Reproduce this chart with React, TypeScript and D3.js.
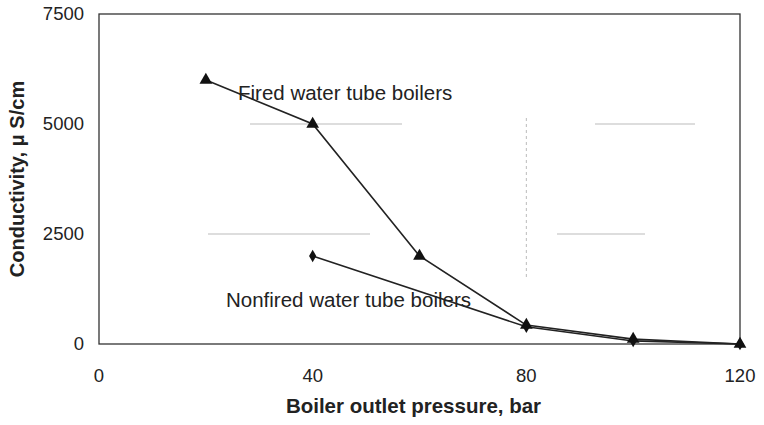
import * as d3 from "d3";

const pressure = [20, 40, 60, 80, 100, 120];
const fired = [6000, 5000, 2000, 430, 110, 0];
const nonfiredPressure = [40, 80, 100, 120];
const nonfired = [2000, 390, 70, 0];
const xTicks = [0, 40, 80, 120];
const yTicks = [0, 2500, 5000, 7500];

const W = 764;
const H = 425;
const m = { left: 99, right: 24, top: 14, bottom: 81 };
const font = "Arial, 'Liberation Sans', sans-serif";

// faded gridline fragments, as in the scanned original
const gridDash: Record<number, string> = {
  5000: "0 151 152 193 100 1000",
  2500: "0 109 162 187 88 1000",
};
const vDash = "0 104 " + "3 3 ".repeat(27) + "0 1000";

export default function App() {
  const x = d3.scaleLinear().domain([0, 120]).range([m.left, W - m.right]);
  const y = d3.scaleLinear().domain([0, 7500]).range([H - m.bottom, m.top]);

  const firedPts: [number, number][] = pressure.map((p, i) => [x(p), y(fired[i])]);
  const nonPts: [number, number][] = nonfiredPressure.map((p, i) => [x(p), y(nonfired[i])]);
  const line = d3.line();
  const tri = d3.symbol().type(d3.symbolTriangle).size(70)();
  const dia = d3.symbol().type(d3.symbolDiamond).size(45)();

  return (
    <svg width={W} height={H} style={{ position: "absolute", left: 0, top: 0, background: "#fff" }}>
      {[2500, 5000].map((v) => (
        <line key={v} x1={x(0)} x2={x(120)} y1={y(v)} y2={y(v)} stroke="#bbb" strokeWidth={1} strokeDasharray={gridDash[v]} />
      ))}
      <line x1={x(80)} x2={x(80)} y1={y(7500)} y2={y(0)} stroke="#bbb" strokeWidth={1} strokeDasharray={vDash} />
      <rect x={x(0)} y={y(7500)} width={x(120) - x(0)} height={y(0) - y(7500)} fill="none" stroke="#333" strokeWidth={1.3} />

      {yTicks.map((t) => (
        <text key={t} x={x(0) - 15} y={y(t)} dy="0.35em" textAnchor="end" fontFamily={font} fontSize={18.5} fill="#222">
          {t}
        </text>
      ))}
      {xTicks.map((t) => (
        <text key={t} x={x(t)} y={H - m.bottom + 38} textAnchor="middle" fontFamily={font} fontSize={18.5} fill="#222">
          {t}
        </text>
      ))}

      <path d={line(firedPts) ?? ""} fill="none" stroke="#222" strokeWidth={1.6} />
      <path d={line(nonPts) ?? ""} fill="none" stroke="#222" strokeWidth={1.6} />
      {firedPts.map((p, i) => (
        <path key={"f" + i} d={tri ?? ""} transform={`translate(${p[0]},${p[1]})`} fill="#111" />
      ))}
      {nonPts.map((p, i) => (
        <path key={"n" + i} d={dia ?? ""} transform={`translate(${p[0]},${p[1]})`} fill="#111" />
      ))}

      <text x={238} y={100} fontFamily={font} fontSize={20.5} fill="#222">Fired water tube boilers</text>
      <text x={226} y={307} fontFamily={font} fontSize={20.5} fill="#222">Nonfired water tube boilers</text>

      <text x={(x(0) + x(120)) / 2 - 6} y={H - 12} textAnchor="middle" fontFamily={font} fontSize={20.5} fontWeight="bold" fill="#222">
        Boiler outlet pressure, bar
      </text>
      <text transform={`translate(24,${(y(0) + y(7500)) / 2}) rotate(-90)`} textAnchor="middle" fontFamily={font} fontSize={20} fontWeight="bold" fill="#222">
        Conductivity, μ S/cm
      </text>
    </svg>
  );
}
